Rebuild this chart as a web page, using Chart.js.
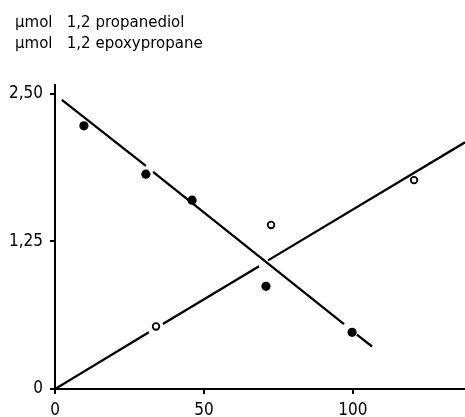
<!DOCTYPE html>
<html>
<head>
<meta charset="utf-8">
<script src="https://cdn.jsdelivr.net/npm/chart.js"></script>
<style>
  body { margin: 0; background: #fff; overflow: hidden; }
  #wrap { position: relative; width: 465px; height: 417px; }
  #head {
    position: absolute; left: 15px; top: 12px;
    font-family: 'DejaVu Sans', sans-serif; font-size: 15px; line-height: 21px;
    color: #000; white-space: pre; word-spacing: 0px;
  }
</style>
</head>
<body>
<div id="wrap">
  <canvas id="chart" width="465" height="417"></canvas>
  <div id="head"></div>
</div>
<script>
const diolX = [9.7, 30.5, 46, 70.8, 99.7];
const diolY = [2.23, 1.82, 1.60, 0.87, 0.48];
const epoxX = [33.9, 72.5, 120.5];
const epoxY = [0.53, 1.39, 1.77];

// 직선 구간 (점 근처에서 끊김)
const diolLine = [[[2.3, 2.45], [30.5, 1.89]], [[32.9, 1.84], [97, 0.55]], [[101.3, 0.46], [106.4, 0.36]]];
const epoxLine = [[[0, 0], [31.5, 0.48]], [[36.2, 0.55], [68.5, 1.04]], [[71.5, 1.09], [137.6, 2.09]]];

const xTicks = [0, 50, 100];
const yTicks = [0, 1.25, 2.5];
const yTickLabels = ['0', '1,25', '2,50'];
const titleLines = ['\u00b5mol   1,2 propanediol', '\u00b5mol   1,2 epoxypropane'];

const TICK_FONT = "'DejaVu Sans Condensed', 'DejaVu Sans', sans-serif";

document.getElementById('head').textContent = titleLines.join('\n');

function toPoints(xs, ys) {
    return xs.map((x, i) => ({ x: x, y: ys[i] }));
}
function toSegments(segs) {
    const out = [];
    segs.forEach((s, i) => {
        if (i > 0) out.push({ x: s[0][0], y: null });
        s.forEach(p => out.push({ x: p[0], y: p[1] }));
    });
    return out;
}

const ctx = document.getElementById('chart').getContext('2d');
new Chart(ctx, {
    type: 'scatter',
    data: {
        datasets: [
            {
                data: toSegments(diolLine),
                showLine: true,
                spanGaps: false,
                borderColor: '#000',
                borderWidth: 2.3,
                pointRadius: 0
            },
            {
                data: toSegments(epoxLine),
                showLine: true,
                spanGaps: false,
                borderColor: '#000',
                borderWidth: 2.3,
                pointRadius: 0
            },
            {
                data: toPoints(diolX, diolY),
                pointRadius: 4.6,
                backgroundColor: '#000',
                borderColor: '#000',
                borderWidth: 0
            },
            {
                data: toPoints(epoxX, epoxY),
                pointRadius: 3.3,
                backgroundColor: '#fff',
                borderColor: '#000',
                borderWidth: 1.8
            }
        ]
    },
    options: {
        responsive: false,
        animation: false,
        devicePixelRatio: 1,
        layout: { autoPadding: false, padding: { left: 0, right: 0, top: 85, bottom: 0 } },
        plugins: {
            legend: { display: false },
            tooltip: { enabled: false },
            title: { display: false }
        },
        scales: {
            x: {
                type: 'linear',
                min: 0,
                max: 137.6,
                afterBuildTicks: s => { s.ticks = xTicks.map(v => ({ value: v })); },
                afterFit: s => { s.height = 28; s.paddingRight = 0; },
                grid: { display: true, drawOnChartArea: false, drawTicks: true, tickLength: 5, color: '#000', lineWidth: 2 },
                border: { display: true, color: '#000', width: 2 },
                ticks: { color: '#000', font: { family: TICK_FONT, size: 17 }, padding: 6, maxRotation: 0 }
            },
            y: {
                type: 'linear',
                min: 0,
                max: 2.576,
                afterBuildTicks: s => { s.ticks = yTicks.map(v => ({ value: v })); },
                afterFit: s => { s.width = 55; s.paddingRight = 0; s.paddingTop = 0; },
                grid: { display: true, drawOnChartArea: false, drawTicks: true, tickLength: 5, color: '#000', lineWidth: 2 },
                border: { display: true, color: '#000', width: 2 },
                ticks: {
                    color: '#000',
                    font: { family: TICK_FONT, size: 17 },
                    padding: 7,
                    callback: (v) => yTickLabels[yTicks.indexOf(v)]
                }
            }
        }
    }
});
</script>
</body>
</html>
